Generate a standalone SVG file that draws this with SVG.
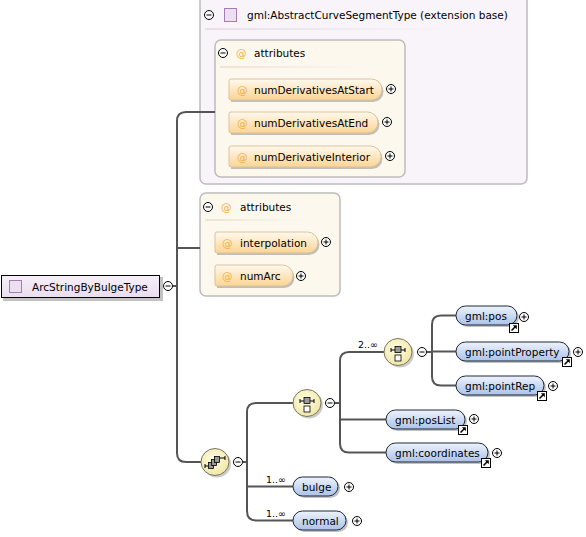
<svg xmlns="http://www.w3.org/2000/svg" width="586" height="537" viewBox="0 0 586 537">
<defs>
<linearGradient id="gElem" x1="0" y1="0" x2="0" y2="1"><stop offset="0" stop-color="#eef3fc"/><stop offset="1" stop-color="#abc2e8"/></linearGradient>
<linearGradient id="gAttr" x1="0" y1="0" x2="0" y2="1"><stop offset="0" stop-color="#fff9ee"/><stop offset="1" stop-color="#fcd494"/></linearGradient>
<linearGradient id="gRoot" x1="0" y1="0" x2="0" y2="1"><stop offset="0" stop-color="#f6f0f8"/><stop offset="1" stop-color="#e9ddef"/></linearGradient>
<radialGradient id="gComp" cx="0.45" cy="0.4" r="0.6"><stop offset="0" stop-color="#fffde6"/><stop offset="1" stop-color="#f1e7a6"/></radialGradient>
<linearGradient id="gSep" x1="0" y1="0" x2="1" y2="0"><stop offset="0" stop-color="#e6e0e6"/><stop offset="1" stop-color="#e6e0e6" stop-opacity="0"/></linearGradient>
<linearGradient id="gSep2" x1="0" y1="0" x2="1" y2="0"><stop offset="0" stop-color="#ece4d4"/><stop offset="1" stop-color="#ece4d4" stop-opacity="0"/></linearGradient>
<g id="plus"><circle r="4.5" fill="#fff" stroke="#000" stroke-width="1"/><path d="M-2.5,0H2.5M0,-2.5V2.5" stroke="#000" stroke-width="1"/></g>
<g id="minus"><circle r="4.5" fill="#fff" stroke="#000" stroke-width="1"/><path d="M-2.5,0H2.5" stroke="#000" stroke-width="1"/></g>
<g id="link"><rect x="0.5" y="0.5" width="9" height="9" fill="#fff" stroke="#000" stroke-width="1"/><path d="M2.5,7.5L6.5,3.5" stroke="#000" stroke-width="1.6"/><path d="M3.8,2.2H7.8V6.2Z" fill="#000"/></g>
</defs>
<style>
text{font-family:"DejaVu Sans","Liberation Sans",sans-serif;font-size:10.5px;fill:#000}
.at{fill:#f0b040}
.occ{font-size:9.5px}
.conn{fill:none;stroke:#555;stroke-width:2}
.elem{fill:url(#gElem);stroke:#1e2838;stroke-width:1}
.attr{fill:url(#gAttr);stroke:#d9c49a;stroke-width:1}
.shadow{fill:#9a9a9a;opacity:0.6}
.comp{fill:url(#gComp);stroke:#7a7660;stroke-width:1}
.box{stroke:#bcbcbc;stroke-width:1.5}
</style>

<!-- extension base box -->
<g id="extension">
<rect class="box" x="200" y="-6" width="327" height="190" rx="6" fill="#f8f4fa"/>
<use href="#minus" x="209" y="15"/>
<rect x="224.5" y="8.5" width="12" height="13" fill="#ebdff0" stroke="#a77bb7" stroke-width="1"/>
<text x="247" y="19">gml:AbstractCurveSegmentType (extension base)</text>
<rect x="205" y="28" width="245" height="2" fill="url(#gSep)"/>
</g>

<g id="ext-attributes">
<rect class="box" x="215" y="40" width="190" height="137" rx="6" fill="#fdf8ee"/>
<use href="#minus" x="223" y="53"/>
<text class="at" x="236" y="57">@</text>
<text x="254" y="57">attributes</text>
<rect x="220" y="66" width="140" height="2" fill="url(#gSep2)"/>
</g>

<g id="numDerivativesAtStart">
<path class="shadow" d="M231,81H373a10.5,10.5 0 0 1 0,21H231Z"/>
<path class="attr" d="M231,79H371.5a10.5,10.5 0 0 1 0,21H231q-2,0 -2,-2V81q0,-2 2,-2Z"/>
<text class="at" x="237" y="93.5">@</text>
<text x="254" y="93.5">numDerivativesAtStart</text>
<use href="#plus" x="391" y="89"/>
</g>
<g id="numDerivativesAtEnd">
<path class="shadow" d="M231,114H369a10.5,10.5 0 0 1 0,21H231Z"/>
<path class="attr" d="M231,112H367.5a10.5,10.5 0 0 1 0,21H231q-2,0 -2,-2V114q0,-2 2,-2Z"/>
<text class="at" x="237" y="126.5">@</text>
<text x="254" y="126.5">numDerivativesAtEnd</text>
<use href="#plus" x="387" y="122"/>
</g>
<g id="numDerivativeInterior">
<path class="shadow" d="M231,148H372a10.5,10.5 0 0 1 0,21H231Z"/>
<path class="attr" d="M231,146H370.5a10.5,10.5 0 0 1 0,21H231q-2,0 -2,-2V148q0,-2 2,-2Z"/>
<text class="at" x="237" y="160.5">@</text>
<text x="254" y="160.5">numDerivativeInterior</text>
<use href="#plus" x="390" y="156"/>
</g>

<g id="attributes">
<rect class="box" x="200" y="193" width="140" height="103" rx="6" fill="#fdf8ee"/>
<use href="#minus" x="208" y="207"/>
<text class="at" x="221" y="211">@</text>
<text x="240" y="211">attributes</text>
<rect x="205" y="219" width="100" height="2" fill="url(#gSep2)"/>
</g>
<g id="interpolation">
<path class="shadow" d="M217,234H309a10.5,10.5 0 0 1 0,21H217Z"/>
<path class="attr" d="M217,232H307.5a10.5,10.5 0 0 1 0,21H217q-2,0 -2,-2V234q0,-2 2,-2Z"/>
<text class="at" x="222" y="246.5">@</text>
<text x="240" y="246.5">interpolation</text>
<use href="#plus" x="326" y="242"/>
</g>
<g id="numArc">
<path class="shadow" d="M217,267H284a10.5,10.5 0 0 1 0,21H217Z"/>
<path class="attr" d="M217,265H282.5a10.5,10.5 0 0 1 0,21H217q-2,0 -2,-2V267q0,-2 2,-2Z"/>
<text class="at" x="222" y="279.5">@</text>
<text x="240" y="279.5">numArc</text>
<use href="#plus" x="301" y="276"/>
</g>

<!-- connectors -->
<g id="connectors">
<path class="conn" d="M173,286H177"/>
<path class="conn" d="M215,112H186Q177,112 177,121V453Q177,462 186,462H201"/>
<path class="conn" d="M177,248H200"/>
<path class="conn" d="M243,462H247"/>
<path class="conn" d="M294,403H256Q247,403 247,412V511Q247,520.5 256,520.5H293"/>
<path class="conn" d="M247,486.5H293"/>
<path class="conn" d="M335,403H340"/>
<path class="conn" d="M385,352H349Q340,352 340,361V443.5Q340,452.5 349,452.5H386"/>
<path class="conn" d="M340,419.5H386"/>
<path class="conn" d="M427,352H432"/>
<path class="conn" d="M456,315.5H441Q432,315.5 432,324.5V376.5Q432,385.5 441,385.5H456"/>
<path class="conn" d="M432,351.5H456"/>
</g>

<g id="root">
<rect x="3" y="277" width="160" height="24" fill="#9a9a9a" opacity="0.6"/>
<rect x="1.5" y="275.5" width="158" height="22" fill="url(#gRoot)" stroke="#000" stroke-width="1"/>
<rect x="9.5" y="280.5" width="12" height="12" fill="#ebdff0" stroke="#a77bb7" stroke-width="1"/>
<text x="32" y="290.5">ArcStringByBulgeType</text>
<use href="#minus" x="168" y="286"/>
</g>

<g id="sequence">
<ellipse cx="217" cy="464" rx="14" ry="13.5" fill="#9a9a9a" opacity="0.5"/>
<ellipse class="comp" cx="215" cy="462" rx="14" ry="13.5"/>
<path d="M205,466H209M205,464V468M220,458H225M225,456V460" stroke="#000" stroke-width="1"/>
<rect x="208.5" y="462.5" width="5" height="6" fill="#999" stroke="#000" stroke-width="0.8"/>
<rect x="211.5" y="459.5" width="5" height="6" fill="#999" stroke="#000" stroke-width="0.8"/>
<rect x="214.5" y="456.5" width="5" height="6" fill="#999" stroke="#000" stroke-width="0.8"/>
<use href="#minus" x="238" y="462"/>
</g>

<g id="choice1">
<ellipse cx="309" cy="405" rx="14" ry="13.5" fill="#9a9a9a" opacity="0.5"/>
<ellipse class="comp" cx="307" cy="403" rx="14" ry="13.5"/>
<path d="M300,401H314M300,399V403M314,399V403" stroke="#000" stroke-width="1"/>
<rect x="304" y="397.5" width="6" height="6" fill="#999" stroke="#000" stroke-width="0.8"/>
<rect x="304" y="406" width="6" height="6" fill="#fff" stroke="#000" stroke-width="0.8"/>
<use href="#minus" x="330" y="403"/>
</g>

<g id="choice2">
<ellipse cx="400" cy="354" rx="14" ry="13.5" fill="#9a9a9a" opacity="0.5"/>
<ellipse class="comp" cx="398" cy="352" rx="14" ry="13.5"/>
<path d="M391,350H405M391,348V352M405,348V352" stroke="#000" stroke-width="1"/>
<rect x="395" y="346.5" width="6" height="6" fill="#999" stroke="#000" stroke-width="0.8"/>
<rect x="395" y="355" width="6" height="6" fill="#fff" stroke="#000" stroke-width="0.8"/>
<text class="occ" x="358" y="348">2..∞</text>
<use href="#minus" x="422" y="352"/>
</g>

<g id="gml-pos">
<rect class="shadow" x="458" y="308" width="61" height="19" rx="9.5"/>
<rect class="elem" x="456" y="306" width="61" height="19" rx="9.5"/>
<text x="465" y="319.5">gml:pos</text>
<use href="#link" x="509" y="323"/>
<use href="#plus" x="524" y="317"/>
</g>
<g id="gml-pointProperty">
<rect class="shadow" x="458" y="344" width="113" height="19" rx="9.5"/>
<rect class="elem" x="456" y="342" width="113" height="19" rx="9.5"/>
<text x="465" y="355.5">gml:pointProperty</text>
<use href="#link" x="562" y="357"/>
<use href="#plus" x="578" y="352"/>
</g>
<g id="gml-pointRep">
<rect class="shadow" x="458" y="378" width="88" height="19" rx="9.5"/>
<rect class="elem" x="456" y="376" width="88" height="19" rx="9.5"/>
<text x="465" y="389.5">gml:pointRep</text>
<use href="#link" x="537" y="391"/>
<use href="#plus" x="553" y="386"/>
</g>
<g id="gml-posList">
<rect class="shadow" x="388" y="412" width="79" height="19" rx="9.5"/>
<rect class="elem" x="386" y="410" width="79" height="19" rx="9.5"/>
<text x="395" y="423.5">gml:posList</text>
<use href="#link" x="458" y="425"/>
<use href="#plus" x="474" y="419"/>
</g>
<g id="gml-coordinates">
<rect class="shadow" x="388" y="445" width="102" height="19" rx="9.5"/>
<rect class="elem" x="386" y="443" width="102" height="19" rx="9.5"/>
<text x="395" y="456.5">gml:coordinates</text>
<use href="#link" x="481" y="458"/>
<use href="#plus" x="497" y="453"/>
</g>
<g id="bulge">
<rect class="shadow" x="295" y="479" width="45" height="19" rx="9.5"/>
<rect class="elem" x="293" y="477" width="45" height="19" rx="9.5"/>
<text x="302" y="490.5">bulge</text>
<text class="occ" x="266" y="483">1..∞</text>
<use href="#plus" x="349" y="487"/>
</g>
<g id="normal">
<rect class="shadow" x="295" y="513" width="53" height="19" rx="9.5"/>
<rect class="elem" x="293" y="511" width="53" height="19" rx="9.5"/>
<text x="302" y="524.5">normal</text>
<text class="occ" x="266" y="517">1..∞</text>
<use href="#plus" x="357" y="521"/>
</g>
</svg>
